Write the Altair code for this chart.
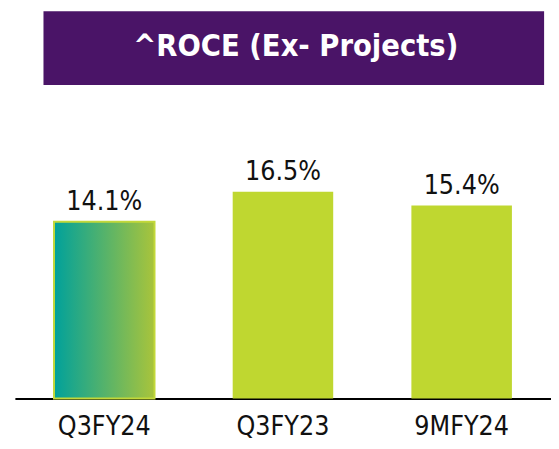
import altair as alt
import pandas as pd

categories = ["Q3FY24", "Q3FY23", "9MFY24"]
values = [14.1, 16.5, 15.4]
labels = ["14.1%", "16.5%", "15.4%"]
title_text = ["^ROCE (Ex- Projects)"]

df = pd.DataFrame({"cat": categories, "val": values, "lab": labels})
tdf = pd.DataFrame({"t": title_text})

FONT = "DejaVu Sans Condensed, Liberation Sans Narrow, sans-serif"
W, H = 544, 305

x = alt.X("cat:N", sort=categories, title=None,
          scale=alt.Scale(paddingInner=0.43, paddingOuter=0.215),
          axis=alt.Axis(labelAngle=0, ticks=False, domainColor="#000000", domainWidth=2,
                        labelFont=FONT, labelFontSize=27, labelColor="#111111",
                        labelPadding=16))
y = alt.Y("val:Q", scale=alt.Scale(domain=[0, 24]), axis=None)

base = alt.Chart(df)

bars = base.transform_filter(alt.datum.cat != "Q3FY24").mark_bar(
    color="#BFD730", size=102).encode(x=x, y=y)

grad_bar = base.transform_filter(alt.datum.cat == "Q3FY24").mark_bar(
    size=102,
    color=alt.Gradient(gradient="linear",
                       stops=[alt.GradientStop(color="#00A19B", offset=0),
                              alt.GradientStop(color="#A9C43B", offset=1)],
                       x1=0, x2=1, y1=0, y2=0),
    stroke="#C2D83A", strokeWidth=2).encode(x=x, y=y)

text = base.mark_text(dy=-6, baseline="bottom", font=FONT, fontSize=27,
                      color="#111111").encode(x=x, y=y, text="lab:N")

box = alt.Chart(tdf).mark_rect(color="#4A1467").encode(
    x=alt.value(29), x2=alt.value(537), y=alt.value(-88), y2=alt.value(-13))

ttl = alt.Chart(tdf).mark_text(font=FONT, fontSize=31, fontWeight="bold",
                               color="#FFFFFF", baseline="middle").encode(
    x=alt.value(285), y=alt.value(-51), text="t:N")

chart = alt.layer(box, ttl, grad_bar, bars, text).properties(
    width=W, height=H,
    background="#FFFFFF",
    autosize=alt.AutoSizeParams(type="none"),
    padding={"left": 7, "top": 88, "right": 0, "bottom": 40},
).configure_view(strokeWidth=0, stroke="transparent")

chart.save("out.html", embed_options={"renderer": "svg", "actions": False})
